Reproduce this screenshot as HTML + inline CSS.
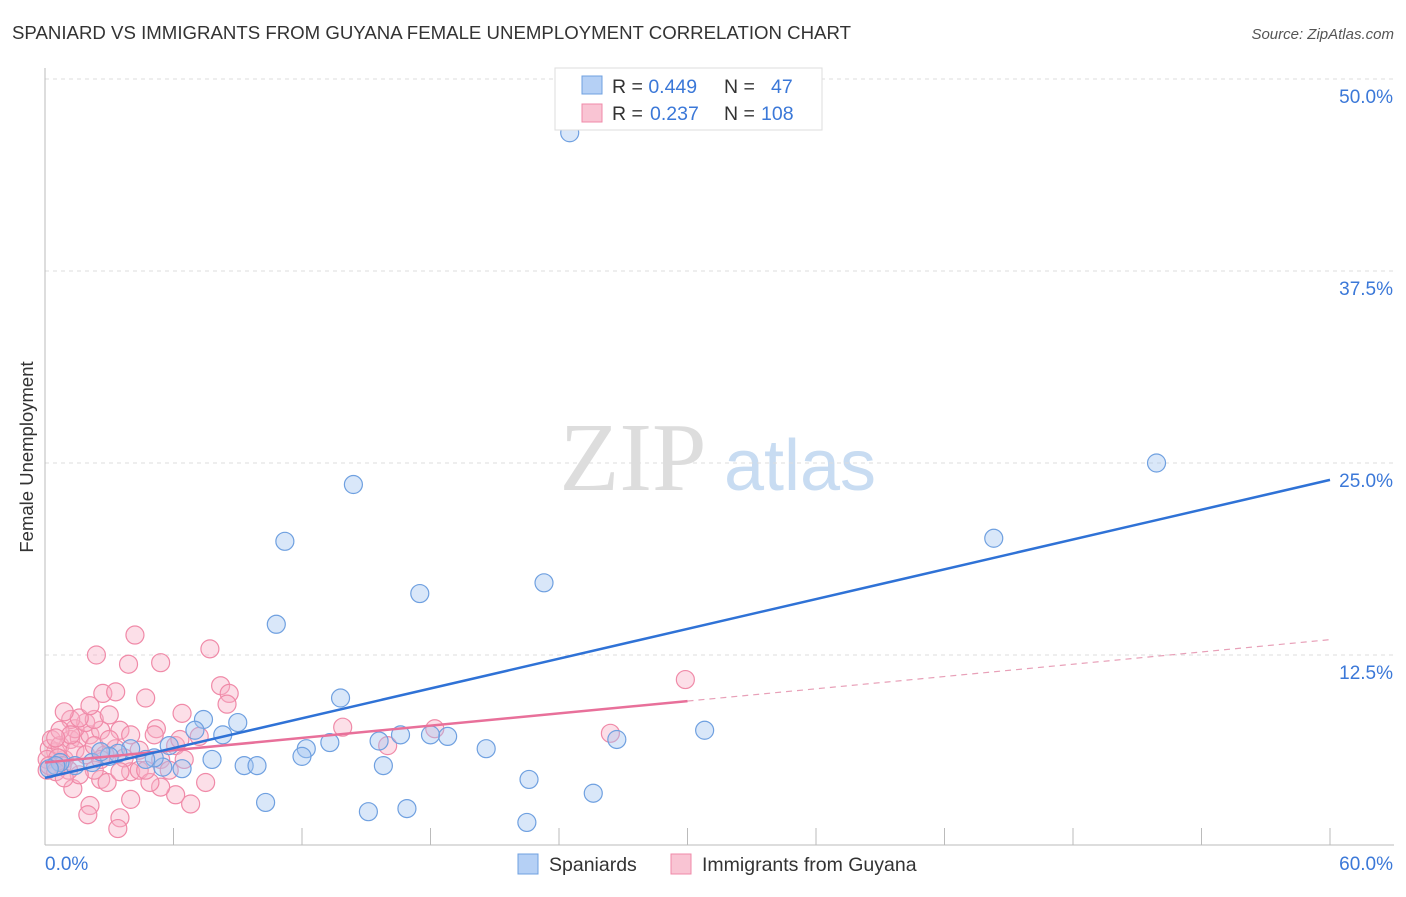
<!DOCTYPE html>
<html><head><meta charset="utf-8">
<style>
body{margin:0;background:#fff;font-family:"Liberation Sans",sans-serif;}
svg text{font-family:"Liberation Sans",sans-serif;}
</style></head>
<body>
<svg id="chart" width="1406" height="892">
<text x="12" y="39" font-size="18" fill="#333" textLength="839" lengthAdjust="spacingAndGlyphs">SPANIARD VS IMMIGRANTS FROM GUYANA FEMALE UNEMPLOYMENT CORRELATION CHART</text>
<text x="1394" y="39" font-size="15" fill="#555" font-style="italic" text-anchor="end">Source: ZipAtlas.com</text>
<text transform="translate(33,457) rotate(-90)" font-size="18.5" fill="#333" text-anchor="middle">Female Unemployment</text>
<g>
<text x="633" y="490" font-size="98" fill="#ddd" font-family="Liberation Serif" text-anchor="middle" style="font-family:'Liberation Serif',serif">ZIP</text>
<text x="800" y="490" font-size="72" fill="#c8dcf2" text-anchor="middle">atlas</text>
</g>
<g id="grid"></g><g id="axes"></g><g id="pts"></g><g id="lines"></g>
<g>
<rect x="555" y="68" width="267" height="62" fill="#fff" stroke="#ddd"/>
<rect x="582" y="76" width="20" height="18" fill="#b5d0f5" stroke="#6fa0e0"/>
<rect x="582" y="104" width="20" height="18" fill="#f9c4d3" stroke="#f08aa8"/>
<text x="612" y="93" font-size="19.5" fill="#333">R = <tspan fill="#3b78d8">0.449</tspan><tspan x="724">N = </tspan><tspan x="771" fill="#3b78d8">47</tspan></text>
<text x="612" y="120" font-size="19.5" fill="#333">R = <tspan x="650" fill="#3b78d8">0.237</tspan><tspan x="724">N = </tspan><tspan x="761" fill="#3b78d8">108</tspan></text>
</g>
<g>
<rect x="518" y="854" width="20" height="20" fill="#b5d0f5" stroke="#6fa0e0"/>
<text x="549" y="871" font-size="19.5" fill="#333">Spaniards</text>
<rect x="671" y="854" width="20" height="20" fill="#f9c4d3" stroke="#f08aa8"/>
<text x="702" y="871" font-size="19.5" fill="#333">Immigrants from Guyana</text>
</g>
</svg>
<script>
const yTicks=[12.5,25,37.5,50];
const yTickLabels=["12.5%","25.0%","37.5%","50.0%"];
const xTickCount=10;
const blueX=[24.5,51.9,44.3,14.4,11.2,23.3,17.5,10.8,13.8,30.8,26.7,20.6,18.8,18.0,16.6,15.6,13.3,12.2,12.0,9.0,8.3,7.4,7.0,7.8,6.4,5.5,5.1,4.0,3.4,3.0,2.2,1.4,0.7,0.5,0.2,9.3,9.9,15.8,22.6,10.3,16.9,15.1,25.6,22.5,5.8,4.7,2.6];
const blueY=[46.5,25.0,20.1,23.6,19.9,17.2,16.5,14.5,9.7,7.6,7.0,6.4,7.2,7.3,7.3,6.9,6.8,6.4,5.9,8.1,7.3,8.3,7.6,5.7,5.1,5.2,5.8,6.4,6.1,5.9,5.5,5.3,5.5,5.3,5.1,5.3,5.3,5.3,4.4,2.9,2.5,2.3,3.5,1.6,6.6,5.7,6.2];
const pinkX=[29.9,26.4,18.2,16.0,13.9,7.7,5.4,4.2,2.4,3.9,8.2,8.6,4.7,2.7,3.3,8.5,6.4,5.2,7.2,6.1,6.5,7.5,6.8,6.1,5.4,4.0,3.5,3.4,2.1,2.0,1.3,2.6,2.3,2.9,4.0,4.4,4.9,1.6,0.9,0.5,0.2,0.1,0.1,0.3,0.7,1.2,1.6,2.1,2.6,1.4,1.9,2.3,1.2,1.6,0.9,2.1,3.0,3.5,4.0,3.3,2.8,3.7,4.4,4.7,5.1,0.7,1.4,1.9,0.6,1.1,0.8,0.2,0.5,0.9,2.3,3.0,2.6,5.4,5.8,3.5,6.3,1.2,0.5];
const pinkY=[10.9,7.4,7.7,6.6,7.8,12.9,12.0,13.8,12.5,11.9,10.5,10.0,9.7,10.0,10.1,9.3,8.7,7.7,7.2,6.6,5.7,4.2,2.8,3.4,3.9,3.1,1.9,1.2,2.7,2.1,3.8,4.4,5.0,4.2,4.9,5.0,4.2,4.7,5.7,6.2,6.4,5.7,5.0,7.0,6.6,7.0,7.1,7.3,7.6,7.7,8.1,8.3,8.3,8.4,8.8,9.2,8.6,7.6,7.3,6.4,6.0,5.8,6.3,5.0,7.3,7.6,6.3,6.0,5.8,5.0,5.3,5.3,4.9,4.5,6.6,7.0,5.7,5.7,5.0,4.9,7.0,7.3,7.1];
const blueTrend=[4.5,23.9];
const pinkTrend=[5.5,13.5];
const pinkSolidEnd=30;
const X0=45,X1=1330,Y0=847,YT=79;
const sx=v=>X0+(X1-X0)*v/60;
const sy=v=>Y0-(Y0-YT)*v/50;
const NS="http://www.w3.org/2000/svg";
function mk(tag,attrs,parent){const e=document.createElementNS(NS,tag);for(const k in attrs)e.setAttribute(k,attrs[k]);parent.appendChild(e);return e;}
const grid=document.getElementById('grid'),axes=document.getElementById('axes'),pts=document.getElementById('pts'),lines=document.getElementById('lines');
yTicks.forEach((t,i)=>{
 const l=mk('line',{x1:X0,x2:1394,y1:sy(t),y2:sy(t),stroke:'#ddd','stroke-dasharray':'4,4'},grid);
 
 
 const tx=mk('text',{x:1393,y:sy(t)+24,'font-size':19,fill:'#3b78d8','text-anchor':'end'},axes);
 tx.textContent=yTickLabels[i];
 
 
});
const ax=mk('line',{x1:X0,x2:X0,y1:68,y2:845,stroke:'#bbb'},axes);


const bx=mk('line',{x1:X0,x2:1394,y1:845,y2:845,stroke:'#bbb'},axes);


for(let i=1;i<=xTickCount;i++){
 const x=sx(60*i/xTickCount);
 const t=mk('line',{x1:x,x2:x,y1:828,y2:845,stroke:'#bbb'},axes);
 
 
}
const xl=mk('text',{x:45,y:870,'font-size':19,fill:'#3b78d8'},axes);xl.textContent='0.0%';


const xr=mk('text',{x:1393,y:870,'font-size':19,fill:'#3b78d8','text-anchor':'end'},axes);xr.textContent='60.0%';


pinkX.forEach((v,i)=>{
 const c=mk('circle',{cx:sx(v),cy:sy(pinkY[i]),r:9,fill:'rgba(248,175,198,0.4)',stroke:'#f08aa8','stroke-width':1.2},pts);
 
 
});
blueX.forEach((v,i)=>{
 const c=mk('circle',{cx:sx(v),cy:sy(blueY[i]),r:9,fill:'rgba(160,196,240,0.4)',stroke:'#6fa0e0','stroke-width':1.2},pts);
 
 
});
const pm=pinkTrend[0]+(pinkTrend[1]-pinkTrend[0])*pinkSolidEnd/60;
const pl=mk('line',{x1:sx(0),y1:sy(pinkTrend[0]),x2:sx(pinkSolidEnd),y2:sy(pm),stroke:'#e8709a','stroke-width':2.5},lines);


const pd=mk('line',{x1:sx(pinkSolidEnd),y1:sy(pm),x2:sx(60),y2:sy(pinkTrend[1]),stroke:'#e8a0b8','stroke-width':1.2,'stroke-dasharray':'6,5'},lines);


const bl=mk('line',{x1:sx(0),y1:sy(blueTrend[0]),x2:sx(60),y2:sy(blueTrend[1]),stroke:'#2f72d6','stroke-width':2.5},lines);


</script>
</body></html>
